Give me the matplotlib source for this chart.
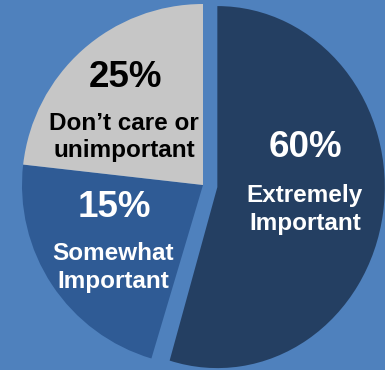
import matplotlib
matplotlib.use("Agg")
import matplotlib.pyplot as plt
from matplotlib.transforms import Affine2D

categories = ["Extremely Important", "Somewhat Important", "Don't care or unimportant"]
slice_sizes = [54.6, 22.2, 23.2]
pct_labels = ["60%", "15%", "25%"]
name_labels = ["Extremely\nImportant", "Somewhat\nImportant", "Don\u2019t care or\nunimportant"]

# ---- style ----
W, H = 385, 370
bg = "#4F81BD"
colors = ["#243F62", "#2F5B95", "#C6C6C6"]
text_colors = ["white", "white", "black"]
font = ["Liberation Sans", "Arial", "DejaVu Sans"]

fig = plt.figure(figsize=(W / 100, H / 100), dpi=100)
fig.patch.set_facecolor(bg)
ax = fig.add_axes([0, 0, 1, 1])
ax.set_facecolor(bg)

cx, cy_px, R = 203, 185, 181
wedges, _ = ax.pie(slice_sizes, colors=colors, startangle=90, counterclock=False,
                   explode=[14.5, 0, 0], radius=R, center=(cx, H - cy_px),
                   wedgeprops=dict(linewidth=0), frame=True)
ax.set_xlim(0, W)
ax.set_ylim(0, H)
ax.set_aspect("auto")
ax.axis("off")

# the exploded slice in the reference is slightly narrower horizontally
vx, vy = wedges[0].center
wedges[0].set_transform(Affine2D().translate(-vx, -vy).scale(0.925, 1.0)
                        .translate(vx, vy) + ax.transData)

# label positions in pixels (center x, baseline of pct, baselines of name lines)
pct_pos = [(305, 157), (114, 217), (125, 87)]
name_pos = [(305, [202, 230]), (113, [260, 288]), (124, [130, 157])]

for i in range(3):
    x, yb = pct_pos[i]
    ax.text(x, H - yb, pct_labels[i], ha="center", va="baseline", color=text_colors[i],
            fontsize=26.5, fontweight="bold", family=font)
    nx, bases = name_pos[i]
    for line, b in zip(name_labels[i].split("\n"), bases):
        ax.text(nx, H - b, line, ha="center", va="baseline", color=text_colors[i],
                fontsize=17.5, fontweight="bold", family=font)

fig.savefig("out.png", dpi=100, facecolor=bg)
